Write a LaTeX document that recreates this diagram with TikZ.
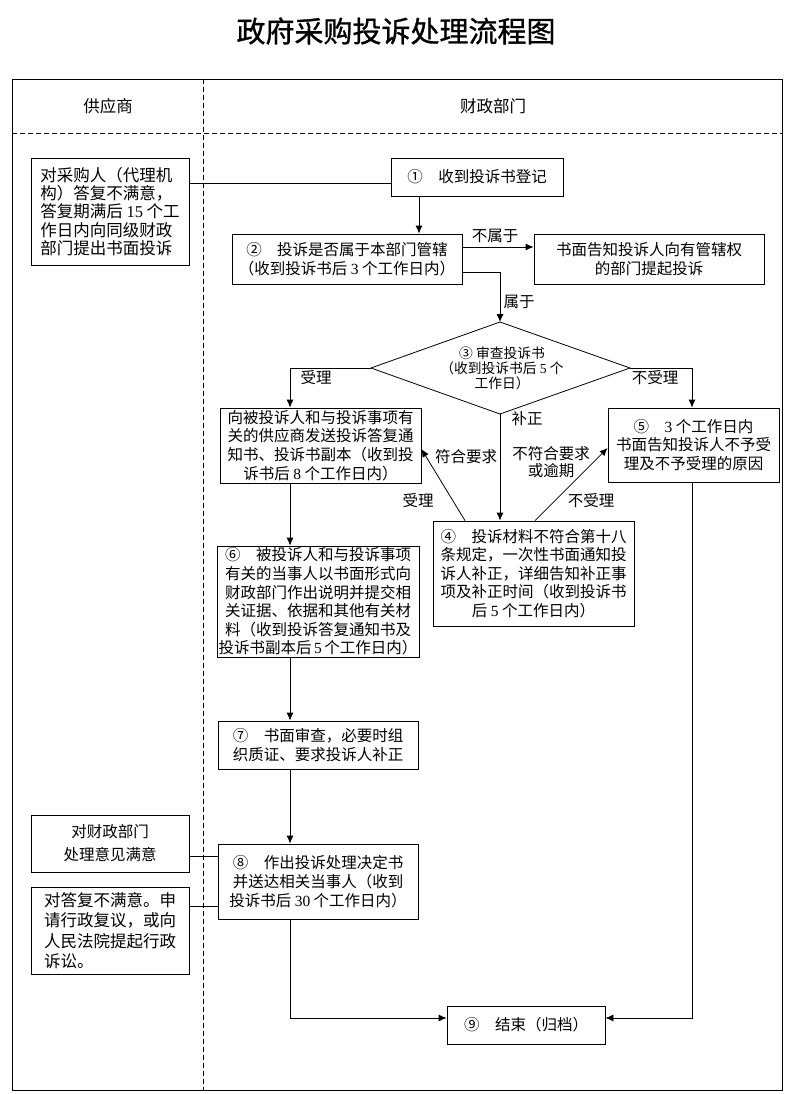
\documentclass[tikz,border=0pt]{standalone}
\usepackage{fontspec}
\setmainfont{Noto Sans CJK SC}
\newfontfamily\titlefont{Noto Sans CJK SC}[FakeBold=1]
\newfontfamily\dgfont{Liberation Serif}
\newcommand\dg[1]{{\dgfont #1}}
\usetikzlibrary{arrows.meta,calc}
\begin{document}
\begin{tikzpicture}[x=1pt,y=-1pt,
  box/.style={draw,line width=0.8pt,inner sep=0pt,align=center,font=\fontsize{15.5}{18.6}\selectfont},
  lbl/.style={inner sep=0pt,font=\fontsize{15.5}{16.5}\selectfont,align=center},
  arr/.style={line width=0.8pt,-{Latex[length=8pt,width=7pt]}},
  ln/.style={line width=0.8pt},
  dsh/.style={line width=0.8pt,dash pattern=on 5pt off 3pt}]
\useasboundingbox (0,0) rectangle (789,1094);
% title
\node[font=\titlefont\fontsize{29}{31}\selectfont,inner sep=0pt] (title) at (396,31) {政府采购投诉处理流程图};
% frame and lanes
\draw[ln] (12,79) rectangle (782,1090);
\draw[dsh] (203,79) -- (203,1090);
\draw[dsh] (12,133) -- (782,133);
\node[font=\fontsize{16.5}{18}\selectfont,inner sep=0pt] (h1) at (108,106) {供应商};
\node[font=\fontsize{16.5}{18}\selectfont,inner sep=0pt] (h2) at (493,106) {财政部门};
% boxes
\node[box,align=left,font=\fontsize{16.5}{18.4}\selectfont,minimum width=158pt,minimum height=107pt] (L1) at (110,211.5)
  {对采购人（代理机\\构）答复不满意，\\答复期满后 \dg{15} 个工\\作日内向同级财政\\部门提出书面投诉};
\node[box,minimum width=172pt,minimum height=38pt] (N1) at (477,177) {①\quad 收到投诉书登记};
\node[box,minimum width=230pt,minimum height=50pt] (N2) at (347,259) {②\quad 投诉是否属于本部门管辖\\（收到投诉书后 \dg{3} 个工作日内）};
\node[box,minimum width=230pt,minimum height=50pt] (R1) at (649,259) {书面告知投诉人向有管辖权\\的部门提起投诉};
% diamond
\coordinate (dT) at (500,322);
\coordinate (dL) at (371,368);
\coordinate (dR) at (630,368);
\coordinate (dB) at (500,414);
\draw[ln] (dT) -- (dR) -- (dB) -- (dL) -- cycle;
\node[font=\fontsize{13.75}{15}\selectfont,align=center,inner sep=0pt] (D) at (502,368) {③ 审查投诉书\\（收到投诉书后 \dg{5} 个\\工作日）};
\node[box,minimum width=201pt,minimum height=75pt] (A) at (320.5,445.5) {向被投诉人和与投诉事项有\\关的供应商发送投诉答复通\\知书、投诉书副本（收到投\\诉书后 \dg{8} 个工作日内）};
\node[box,minimum width=171pt,minimum height=74pt] (N5) at (693.5,445) {⑤\quad \dg{3} 个工作日内\\书面告知投诉人不予受\\理及不予受理的原因};
\node[box,minimum width=201pt,minimum height=105pt] (N4) at (533.5,573.5) {④\quad 投诉材料不符合第十八\\条规定，一次性书面通知投\\诉人补正，详细告知补正事\\项及补正时间（收到投诉书\\后 \dg{5} 个工作日内）};
\node[box,minimum width=202pt,minimum height=111pt] (N6) at (318,601.5) {⑥\quad 被投诉人和与投诉事项\\有关的当事人以书面形式向\\财政部门作出说明并提交相\\关证据、依据和其他有关材\\料（收到投诉答复通知书及\\投诉书副本后\,\dg{5}\,个工作日内）};
\node[box,font=\fontsize{15.5}{19}\selectfont,minimum width=200pt,minimum height=48pt] (N7) at (318,745) {⑦\quad 书面审查，必要时组\\织质证、要求投诉人补正};
\node[box,font=\fontsize{15.5}{19}\selectfont,minimum width=200pt,minimum height=75pt] (N8) at (318,881.5) {⑧\quad 作出投诉处理决定书\\并送达相关当事人（收到\\投诉书后 \dg{30} 个工作日内）};
\node[box,font=\fontsize{15.5}{23}\selectfont,minimum width=158pt,minimum height=57pt] (L2) at (110,843.5) {对财政部门\\处理意见满意};
\node[box,align=left,font=\fontsize{16.5}{20.5}\selectfont,minimum width=158pt,minimum height=87pt] (L3) at (110,930.5) {对答复不满意。申\\请行政复议，或向\\人民法院提起行政\\诉讼。};
\node[box,minimum width=158pt,minimum height=38pt] (N9) at (526,1025) {⑨\quad 结束（归档）};
% helper coordinates
\coordinate (y183) at (0,183);
\coordinate (x419) at (419,0);
\coordinate (y247) at (0,247);
\coordinate (y272) at (0,272);
\coordinate (x290) at (290,0);
\coordinate (x692) at (692,0);
\coordinate (x465) at (465,0);
\coordinate (x535) at (535,0);
\coordinate (y449) at (0,449);
\coordinate (y448) at (0,448);
\coordinate (y856) at (0,856);
\coordinate (y906) at (0,906);
\coordinate (y1018) at (0,1018);
% connectors
\draw[ln] (L1.east |- y183) -- (N1.west |- y183);
\draw[arr] (N1.south -| x419) -- (N2.north -| x419);
\draw[arr] (N2.east |- y247) -- (R1.west |- y247);
\draw[arr] (N2.east |- y272) -| (dT);
\draw[arr] (dL) -| (A.north -| x290);
\draw[arr] (dR) -| (N5.north -| x692);
\draw[arr] (dB) -- (N4.north -| dB);
\draw[arr] (N4.north -| x465) -- (A.east |- y449);
\draw[arr] (N4.north -| x535) -- (N5.west |- y448);
\draw[arr] (A.south -| x290) -- (N6.north -| x290);
\draw[arr] (N6.south -| x290) -- (N7.north -| x290);
\draw[arr] (N7.south -| x290) -- (N8.north -| x290);
\draw[ln] (L2.east |- y856) -- (N8.west |- y856);
\draw[ln] (L3.east |- y906) -- (N8.west |- y906);
\draw[arr] (N8.south -| x290) |- (N9.west |- y1018);
\draw[arr] (N5.south -| x692) |- (N9.east |- y1018);
% labels
\node[lbl] (t1) at (495,236) {不属于};
\node[lbl] (t2) at (519,302) {属于};
\node[lbl] (t3) at (316,378) {受理};
\node[lbl] (t4) at (655,378) {不受理};
\node[lbl] (t5) at (527,419) {补正};
\node[lbl] (t6) at (466,457) {符合要求};
\node[lbl] (t7) at (551,462) {不符合要求\\或逾期};
\node[lbl] (t8) at (418,501) {受理};
\node[lbl] (t9) at (591,501) {不受理};
\end{tikzpicture}
\end{document}
